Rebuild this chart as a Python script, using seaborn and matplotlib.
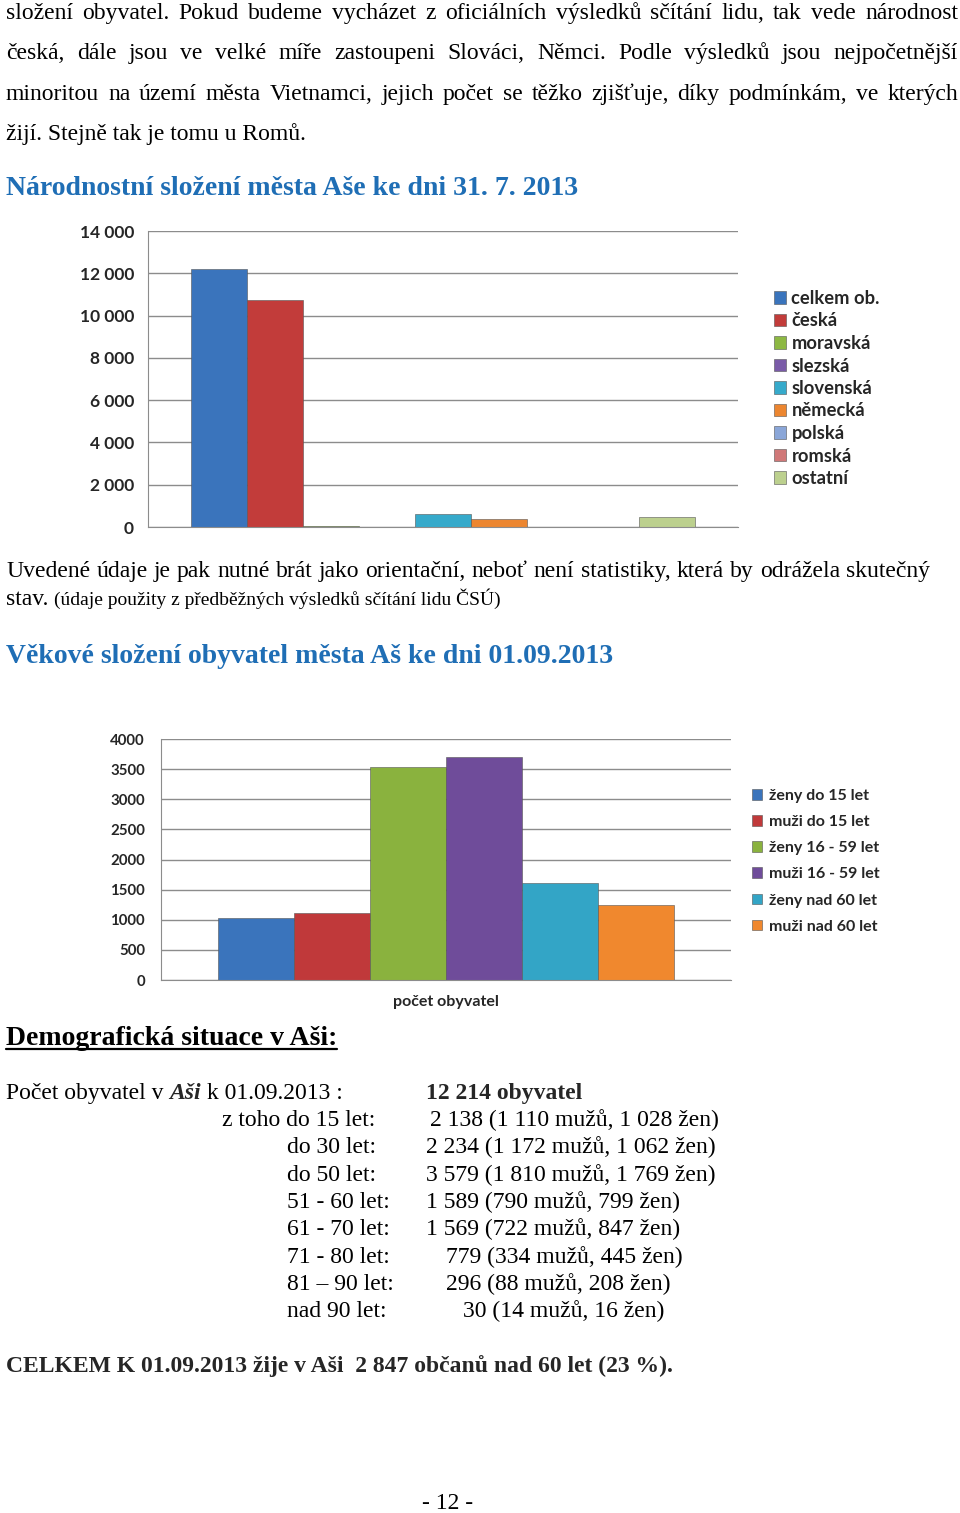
import numpy as np
import pandas as pd
import matplotlib
matplotlib.use("Agg")
import matplotlib.pyplot as plt
from matplotlib.lines import Line2D
import seaborn as sns

# ---------------- data ----------------
nat_labels = ["celkem ob.", "česká", "moravská", "slezská", "slovenská",
              "německá", "polská", "romská", "ostatní"]
nat_values = [12214, 10740, 25, 8, 600, 370, 12, 6, 490]
nat_colors = ["#3A74BC", "#C23C3A", "#8DB843", "#7A5BA8", "#36AACB",
              "#EC8630", "#8AA6D8", "#D07878", "#BCD08E"]
nat_ticks = [0, 2000, 4000, 6000, 8000, 10000, 12000, 14000]
nat_tick_labels = ["0", "2 000", "4 000", "6 000", "8 000", "10 000", "12 000", "14 000"]

age_labels = ["ženy do 15 let", "muži do 15 let", "ženy 16 - 59 let",
              "muži 16 - 59 let", "ženy nad 60 let", "muži nad 60 let"]
age_values = [1028, 1110, 3540, 3706, 1606, 1250]
age_colors = ["#3A74BC", "#C0393A", "#8AB23E", "#6F4C9A", "#33A5C6", "#F0882E"]
age_ticks = [0, 500, 1000, 1500, 2000, 2500, 3000, 3500, 4000]
age_category = "počet obyvatel"

para1 = ["složení obyvatel. Pokud budeme vycházet z oficiálních výsledků sčítání lidu, tak vede národnost",
         "česká, dále jsou ve velké míře zastoupeni Slováci, Němci. Podle výsledků jsou nejpočetnější",
         "minoritou na území města Vietnamci, jejich počet se těžko zjišťuje, díky podmínkám, ve kterých",
         "žijí. Stejně tak je tomu u Romů."]
title1 = "Národnostní složení města Aše ke dni 31. 7. 2013"
para2a = "Uvedené údaje je pak nutné brát jako orientační, neboť není statistiky, která by odrážela skutečný"
para2b = ["stav.", "(údaje použity z předběžných výsledků sčítání lidu ČSÚ)"]
title2 = "Věkové složení obyvatel města Aš ke dni 01.09.2013"
title3 = "Demografická situace v Aši:"
row_labels = ["z toho do 15 let:", "do 30 let:", "do 50 let:", "51 - 60 let:", "61 - 70 let:",
              "71 - 80 let:", "81 – 90 let:", "nad 90 let:"]
row_values = ["2 138 (1 110 mužů, 1 028 žen)", "2 234 (1 172 mužů, 1 062 žen)",
              "3 579 (1 810 mužů, 1 769 žen)", "1 589 (790 mužů, 799 žen)",
              "1 569 (722 mužů, 847 žen)", "779 (334 mužů, 445 žen)",
              "296 (88 mužů, 208 žen)", "30 (14 mužů, 16 žen)"]
total_line = "CELKEM K 01.09.2013 žije v Aši  2 847 občanů nad 60 let (23 %)."
page_no = "- 12 -"

# ---------------- figure ----------------
W, H = 960, 1513
sns.set_style("white")
plt.rcParams["font.family"] = ["Lato", "DejaVu Sans"]
fig = plt.figure(figsize=(W / 100, H / 100), dpi=100)
fig.patch.set_facecolor("white")
renderer = fig.canvas.get_renderer()

SERIF = ["Liberation Serif", "DejaVu Serif"]
BODY = 17
HEAD = 20
HEAD_COLOR = "#1F6EB5"


def fy(y):
    return 1 - y / H


def twidth(s, **kw):
    t = fig.text(0, 0, s, **kw)
    w = t.get_window_extent(renderer).width
    t.remove()
    return w


def justify(line, x0, x1, yb, **kw):
    words = line.split(" ")
    widths = [twidth(w, **kw) for w in words]
    gap = (x1 - x0 - sum(widths)) / max(len(words) - 1, 1)
    x = x0
    for w, wd in zip(words, widths):
        fig.text(x / W, fy(yb), w, va="baseline", ha="left", **kw)
        x += wd + gap


def seq(parts, x0, yb):
    x = x0
    for s, gap, kw in parts:
        t = fig.text(x / W, fy(yb), s, va="baseline", ha="left", **kw)
        x += t.get_window_extent(renderer).width + gap
    return x


body_kw = dict(family=SERIF, fontsize=BODY, color="black")

# paragraph 1
for line, yb in zip(para1[:3], [19, 59, 100]):
    justify(line, 6, 958, yb, **body_kw)
fig.text(6 / W, fy(140), para1[3], va="baseline", ha="left", **body_kw)

fig.text(6 / W, fy(195), title1, va="baseline", ha="left", family=SERIF,
         fontsize=HEAD, fontweight="bold", color=HEAD_COLOR)

# paragraph 2
justify(para2a, 6, 930, 577, **body_kw)
sp = twidth("x x", **body_kw) - twidth("xx", **body_kw)
seq([(para2b[0], sp, body_kw),
     (para2b[1], 0, dict(family=SERIF, fontsize=14, color="black"))], 6, 605)

fig.text(6 / W, fy(663), title2, va="baseline", ha="left", family=SERIF,
         fontsize=HEAD, fontweight="bold", color=HEAD_COLOR)

# demographic section
t3 = fig.text(6 / W, fy(1045), title3, va="baseline", ha="left", family=SERIF,
              fontsize=HEAD, fontweight="bold", color="black")
w3 = t3.get_window_extent(renderer).width
fig.add_artist(Line2D([6 / W, (6 + w3) / W], [fy(1049), fy(1049)], color="black", lw=1.6))

seq([("Počet obyvatel v", sp, body_kw),
     ("Aši", sp, dict(family=SERIF, fontsize=BODY, fontweight="bold", fontstyle="italic")),
     ("k 01.09.2013 :", 0, body_kw)], 6, 1099)
fig.text(426 / W, fy(1099), "12 214 obyvatel", va="baseline", ha="left",
         family=SERIF, fontsize=BODY, fontweight="bold")

row_y = [1126, 1153, 1181, 1208, 1235, 1263, 1290, 1317]
label_x = [222, 287, 287, 287, 287, 287, 287, 287]
value_x = [430, 426, 426, 426, 426, 446, 446, 463]
for lab, val, yb, lx, vx in zip(row_labels, row_values, row_y, label_x, value_x):
    fig.text(lx / W, fy(yb), lab, va="baseline", ha="left", **body_kw)
    fig.text(vx / W, fy(yb), val, va="baseline", ha="left", **body_kw)

fig.text(6 / W, fy(1372), total_line, va="baseline", ha="left", family=SERIF,
         fontsize=BODY, fontweight="bold")
fig.text(448 / W, fy(1509), page_no, va="baseline", ha="center", **body_kw)

# ---------------- chart 1 ----------------
GRID = "#8C8C8C"
ax1 = fig.add_axes([148 / W, fy(527), 590 / W, 296 / H])
df1 = pd.DataFrame({"grp": ["národnost"] * len(nat_labels), "nat": nat_labels, "val": nat_values})
sns.barplot(data=df1, x="grp", y="val", hue="nat", hue_order=nat_labels,
            palette=dict(zip(nat_labels, nat_colors)), saturation=1, width=0.855,
            edgecolor="#555555", linewidth=0.4, ax=ax1)
ax1.set_ylim(0, 14000)
ax1.set_xlim(-0.5, 0.5)
ax1.set_yticks(nat_ticks, nat_tick_labels)
ax1.set_xticks([-0.5, 0.5], ["", ""])
ax1.set_xlabel("")
ax1.set_ylabel("")
ax1.yaxis.grid(True, color=GRID, lw=1)
ax1.set_axisbelow(True)
for s in ["top", "right"]:
    ax1.spines[s].set_visible(False)
for s in ["left", "bottom"]:
    ax1.spines[s].set_color(GRID)
ax1.tick_params(axis="y", length=3.5, width=1, color=GRID, pad=6.5, labelsize=12.5)
ax1.tick_params(axis="x", length=4, width=1, color=GRID)
for lab in ax1.get_yticklabels():
    lab.set_fontweight("bold")
h1, l1 = ax1.get_legend_handles_labels()
ax1.legend(h1, l1, loc="upper left", bbox_to_anchor=(774 / W, fy(290)),
           bbox_transform=fig.transFigure, frameon=False,
           handlelength=0.65, handleheight=0.65, handletextpad=0.3,
           labelspacing=0.3, borderpad=0, borderaxespad=0,
           prop=dict(family=["Lato", "DejaVu Sans"], weight="bold", size=13.2))

# ---------------- chart 2 ----------------
ax2 = fig.add_axes([161 / W, fy(980), 570 / W, 241 / H])
df2 = pd.DataFrame({"grp": [age_category] * len(age_labels), "age": age_labels, "val": age_values})
sns.barplot(data=df2, x="grp", y="val", hue="age", hue_order=age_labels,
            palette=dict(zip(age_labels, age_colors)), saturation=1, width=0.80,
            edgecolor="#555555", linewidth=0.4, ax=ax2)
ax2.set_ylim(0, 4000)
ax2.set_xlim(-0.5, 0.5)
ax2.set_yticks(age_ticks, [str(t) for t in age_ticks])
ax2.set_xticks([-0.5, 0, 0.5], ["", age_category, ""])
ax2.xaxis.get_major_ticks()[1].tick1line.set_visible(False)
ax2.set_xlabel("")
ax2.set_ylabel("")
ax2.yaxis.grid(True, color=GRID, lw=1)
ax2.set_axisbelow(True)
for s in ["top", "right"]:
    ax2.spines[s].set_visible(False)
for s in ["left", "bottom"]:
    ax2.spines[s].set_color(GRID)
ax2.tick_params(axis="y", length=4, width=1, color=GRID, pad=7.5, labelsize=10.8)
ax2.tick_params(axis="x", length=4, width=1, color=GRID, pad=7, labelsize=11.5)
for lab in ax2.get_yticklabels() + ax2.get_xticklabels():
    lab.set_fontweight("bold")
h2, l2 = ax2.get_legend_handles_labels()
ax2.legend(h2, l2, loc="upper left", bbox_to_anchor=(752 / W, fy(789)),
           bbox_transform=fig.transFigure, frameon=False,
           handlelength=0.65, handleheight=0.65, handletextpad=0.4,
           labelspacing=0.76, borderpad=0, borderaxespad=0,
           prop=dict(family=["Lato", "DejaVu Sans"], weight="bold", size=11.5))

fig.savefig("out.png", dpi=100, facecolor="white")
